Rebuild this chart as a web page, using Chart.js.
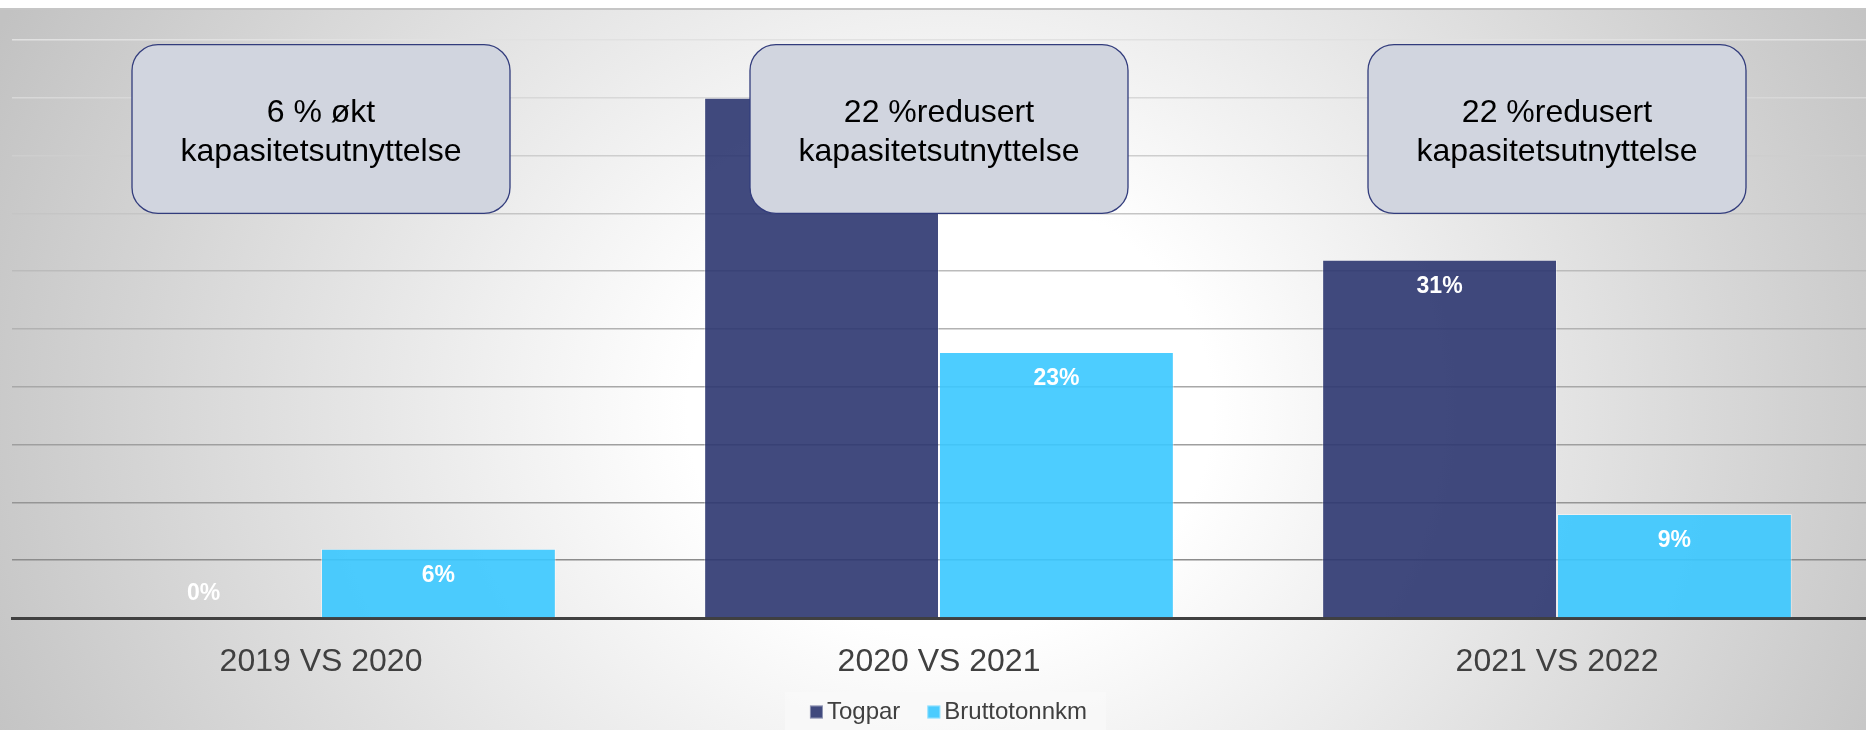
<!DOCTYPE html>
<html>
<head>
<meta charset="utf-8">
<script src="https://cdn.jsdelivr.net/npm/chart.js@4.4.1/dist/chart.umd.min.js"></script>
<style>
  html, body { margin: 0; padding: 0; background: #fff; }
  #wrap { position: relative; width: 1866px; height: 730px; overflow: hidden; }
  #bg {
    position: absolute; left: 0; top: 8px; width: 1866px; height: 722px;
    border-top: 2px solid #c6c6c6; box-sizing: border-box;
    background: radial-gradient(ellipse 1050px 900px at 950px 400px, #ffffff 0%, #ffffff 25%, #c2c2c2 100%);
  }
  #chart { position: absolute; left: 0; top: 0; }
</style>
</head>
<body>
<div id="wrap">
  <div id="bg"></div>
  <canvas id="chart" width="1866" height="734"></canvas>
</div>
<script>
// Data (percent)
const categories = ['2019 VS 2020', '2020 VS 2021', '2021 VS 2022'];
const togpar = [0, 45, 31];
const bruttotonnkm = [6, 23, 9];
const yMax = 50;
const yStep = 5;

// Callout text per category
const boxTexts = [
  ['6 % økt', 'kapasitetsutnyttelse'],
  ['22 %redusert', 'kapasitetsutnyttelse'],
  ['22 %redusert', 'kapasitetsutnyttelse']
];
const boxTop = 49.6;
const boxBottom = 35;

const FONT = '"Liberation Sans", Arial, sans-serif';
Chart.defaults.font.family = FONT;

const barColors = ['rgba(44, 54, 112, 0.9)', 'rgba(58, 200, 255, 0.9)'];

// gridlines get darker toward the axis
function gridColor(ctx) {
  const v = ctx.tick ? ctx.tick.value : 0;
  if (v === 0) return '#404040';
  const c = Math.round(225 - (yMax - v) / (yMax - yStep) * 85);
  return `rgb(${c},${c},${c})`;
}

// white value labels inside the bar ends
const barLabels = {
  id: 'barLabels',
  afterDatasetsDraw(chart) {
    const ctx = chart.ctx;
    const base = chart.scales.y.getPixelForValue(0);
    ctx.save();
    ctx.font = 'bold 23px ' + FONT;
    ctx.fillStyle = '#ffffff';
    ctx.textAlign = 'center';
    ctx.textBaseline = 'middle';
    chart.data.datasets.forEach((ds, i) => {
      chart.getDatasetMeta(i).data.forEach((bar, j) => {
        const y = Math.min(bar.y + 27, base - 24);
        ctx.fillText(ds.data[j] + '%', bar.x, y);
      });
    });
    ctx.restore();
  }
};

// rounded callout boxes over each group
const callouts = {
  id: 'callouts',
  afterDraw(chart) {
    const { ctx, scales: { x, y } } = chart;
    ctx.save();
    boxTexts.forEach((lines, i) => {
      const cx = x.getPixelForValue(i);
      const top = y.getPixelForValue(boxTop);
      const bottom = y.getPixelForValue(boxBottom);
      const w = 378;
      ctx.beginPath();
      ctx.roundRect(cx - w / 2, top, w, bottom - top, 26);
      ctx.fillStyle = '#d1d5df';
      ctx.fill();
      ctx.lineWidth = 1.3;
      ctx.strokeStyle = '#323c7c';
      ctx.stroke();
      ctx.fillStyle = '#000000';
      ctx.font = '32px ' + FONT;
      ctx.textAlign = 'center';
      ctx.textBaseline = 'alphabetic';
      const mid = (top + bottom) / 2;
      lines.forEach((t, k) => {
        ctx.fillText(t, cx, mid + 12 + (k - (lines.length - 1) / 2) * 39);
      });
    });
    ctx.restore();
  }
};

// pale panel behind the legend, and small squares close to the text
const legendExtras = {
  id: 'legendExtras',
  afterLayout(chart) {
    chart.legend.left += 7;
    chart.legend.right += 7;
  },
  beforeDraw(chart) {
    const hb = chart.legend.legendHitBoxes;
    if (!hb || !hb.length) return;
    const l = Math.min(...hb.map(b => b.left)) - 25;
    const r = Math.max(...hb.map(b => b.left + b.width)) + 19;
    const t = hb[0].top - 8;
    const ctx = chart.ctx;
    ctx.save();
    ctx.fillStyle = 'rgba(248,248,248,0.9)';
    ctx.fillRect(l, t, r - l, 45);
    ctx.restore();
  },
  afterDraw(chart) {
    const hb = chart.legend.legendHitBoxes;
    if (!hb || !hb.length) return;
    const ctx = chart.ctx;
    ctx.save();
    hb.forEach((b, i) => {
      ctx.fillStyle = barColors[i];
      ctx.fillRect(b.left, b.top + 12 - 6.5, 13, 13);
      ctx.strokeStyle = 'rgba(255,255,255,0.4)';
      ctx.lineWidth = 1;
      ctx.strokeRect(b.left + 0.5, b.top + 12 - 6, 12, 12);
    });
    ctx.restore();
  }
};

new Chart(document.getElementById('chart').getContext('2d'), {
  type: 'bar',
  data: {
    labels: categories,
    datasets: [{
      label: 'Togpar',
      data: togpar,
      backgroundColor: barColors[0],
      borderColor: 'rgba(255, 255, 255, 0.35)',
      borderWidth: 1,
      categoryPercentage: 0.76,
      barPercentage: 1
    }, {
      label: 'Bruttotonnkm',
      data: bruttotonnkm,
      backgroundColor: barColors[1],
      borderColor: 'rgba(255, 255, 255, 0.45)',
      borderWidth: 1,
      categoryPercentage: 0.76,
      barPercentage: 1
    }]
  },
  options: {
    responsive: false,
    animation: false,
    layout: { padding: { top: 40, left: 12, right: -5, bottom: 0 } },
    plugins: {
      tooltip: { enabled: false },
      legend: {
        position: 'bottom',
        labels: {
          color: '#404040',
          font: { size: 24 },
          boxWidth: 5,
          boxHeight: 13,
          padding: 27,
          generateLabels(chart) {
            return Chart.defaults.plugins.legend.labels.generateLabels(chart).map(item => ({
              ...item,
              fillStyle: 'rgba(0,0,0,0)',
              strokeStyle: 'rgba(0,0,0,0)',
              lineWidth: 0
            }));
          }
        }
      }
    },
    scales: {
      x: {
        grid: { display: false },
        border: { color: '#404040', width: 3 },
        ticks: { color: '#404040', font: { size: 32 }, padding: 17 },
        afterFit(scale) { scale.height = 55; }
      },
      y: {
        min: 0,
        max: yMax,
        ticks: { display: false, stepSize: yStep },
        grid: { color: gridColor, lineWidth: 1.5, drawTicks: false },
        border: { display: false }
      }
    }
  },
  plugins: [legendExtras, barLabels, callouts]
});
</script>
</body>
</html>
